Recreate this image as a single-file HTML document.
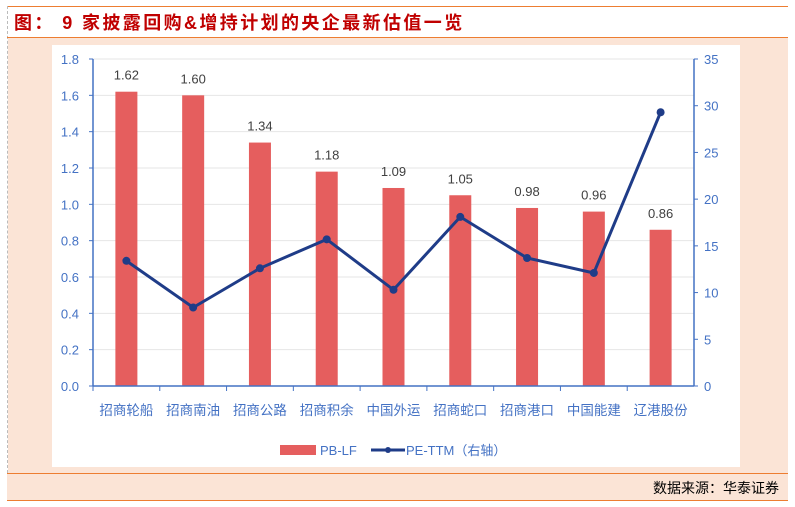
<!DOCTYPE html>
<html><head><meta charset="utf-8"><style>
body{margin:0;width:795px;height:507px;background:#fff;font-family:"Liberation Sans","Noto Sans CJK SC",sans-serif;position:relative;overflow:hidden}
.abs{position:absolute}
</style></head><body>
<div class="abs" style="left:7px;top:6px;width:781px;height:1px;background:#ed7d31"></div>
<div class="abs" style="left:7px;top:6px;width:0;height:467px;border-left:1px dashed #bbb"></div>
<div class="abs" style="left:14px;top:9px;font-size:18px;font-weight:bold;color:#c00000;letter-spacing:2.4px;font-family:'Liberation Sans','Noto Sans CJK SC',sans-serif">图： 9 家披露回购&amp;增持计划的央企最新估值一览</div>
<div class="abs" style="left:7px;top:37px;width:781px;height:1px;background:#ed7d31"></div>
<div class="abs" style="left:8px;top:38px;width:780px;height:435px;background:#fbe4d6"></div>
<div class="abs" style="left:52px;top:45px;width:688px;height:422px;background:#fff"></div>
<div class="abs" style="left:7px;top:473px;width:781px;height:1px;background:#ed7d31"></div>
<div class="abs" style="left:7px;top:474px;width:781px;height:26px;background:#fbe4d6"></div>
<div class="abs" style="left:7px;top:500px;width:781px;height:1px;background:#ed7d31"></div>
<div class="abs" style="right:16px;top:478px;font-size:14px;color:#000">数据来源：华泰证券</div>
<svg class="abs" style="left:0;top:0" width="795" height="507" id="chart"></svg>
<script>
const categories=["招商轮船","招商南油","招商公路","招商积余","中国外运","招商蛇口","招商港口","中国能建","辽港股份"];
const pbValues=[1.62,1.60,1.34,1.18,1.09,1.05,0.98,0.96,0.86];
const peValues=[13.4,8.4,12.6,15.7,10.3,18.1,13.7,12.1,29.3];
const leftTicks=[0,0.2,0.4,0.6,0.8,1.0,1.2,1.4,1.6,1.8];
const rightTicks=[0,5,10,15,20,25,30,35];
const svg=document.getElementById('chart');
const NS='http://www.w3.org/2000/svg';
const X0=93,X1=694,Y0=386,Y1=59;
const yL=v=>Y0-(v/1.8)*(Y0-Y1);
const yR=v=>Y0-(v/35)*(Y0-Y1);
const step=(X1-X0)/categories.length;
const xC=i=>X0+step*(i+0.5);
function mk(t,a){const e=document.createElementNS(NS,t);for(const k in a)e.setAttribute(k,a[k]);svg.appendChild(e);return e;}
function txt(x,y,s,a){const e=mk('text',Object.assign({x:x,y:y,'font-size':13,'font-family':'Liberation Sans, Noto Sans CJK SC, sans-serif'},a));e.textContent=s;return e;}
leftTicks.forEach(v=>{
 if(v>0){const g=mk('line',{x1:X0,x2:X1,y1:yL(v),y2:yL(v),stroke:'#e6e6e6','stroke-width':1});}
 const t=txt(X0-14,yL(v)+5,v.toFixed(1),{fill:'#4472c4','text-anchor':'end'});
 
 mk('line',{x1:X0-4,x2:X0,y1:yL(v),y2:yL(v),stroke:'#4472c4'});
});
rightTicks.forEach(v=>{
 const t=txt(X1+10,yR(v)+5,String(v),{fill:'#4472c4'});
 
 mk('line',{x1:X1,x2:X1+4,y1:yR(v),y2:yR(v),stroke:'#4472c4'});
});
pbValues.forEach((v,i)=>{
 const b=mk('rect',{x:xC(i)-11,y:yL(v),width:22,height:Y0-yL(v),fill:'#e55e5e'});
 
 const l=txt(xC(i),yL(v)-12,v.toFixed(2),{fill:'#404040','text-anchor':'middle'});
 
 const c=txt(xC(i),415,categories[i],{fill:'#4472c4','text-anchor':'middle','font-size':13.5});
 
 mk('line',{x1:X0+step*i,x2:X0+step*i,y1:Y0,y2:Y0+5,stroke:'#4472c4'});
});
const la=mk('line',{x1:X0,x2:X0,y1:Y1,y2:Y0,stroke:'#4472c4','stroke-width':1.5});

const ra=mk('line',{x1:X1,x2:X1,y1:Y1,y2:Y0,stroke:'#4472c4','stroke-width':1.5});

const xa=mk('line',{x1:X0,x2:X1,y1:Y0,y2:Y0,stroke:'#4472c4','stroke-width':1.5});

const pl=mk('polyline',{points:peValues.map((v,i)=>xC(i)+','+yR(v)).join(' '),fill:'none',stroke:'#1f3c88','stroke-width':3});

peValues.forEach((v,i)=>{const p=mk('circle',{cx:xC(i),cy:yR(v),r:4,fill:'#1f3c88'});});
const lg1=mk('rect',{x:280,y:445,width:36,height:10,fill:'#e55e5e'});

const lt1=txt(320,455,'PB-LF',{fill:'#4472c4','font-size':13});

const lg2=mk('line',{x1:371,x2:405,y1:450,y2:450,stroke:'#1f3c88','stroke-width':3});

mk('circle',{cx:388,cy:450,r:3,fill:'#1f3c88'});
const lt2=txt(406,455,'PE-TTM（右轴）',{fill:'#4472c4','font-size':13});

</script>
</body></html>
